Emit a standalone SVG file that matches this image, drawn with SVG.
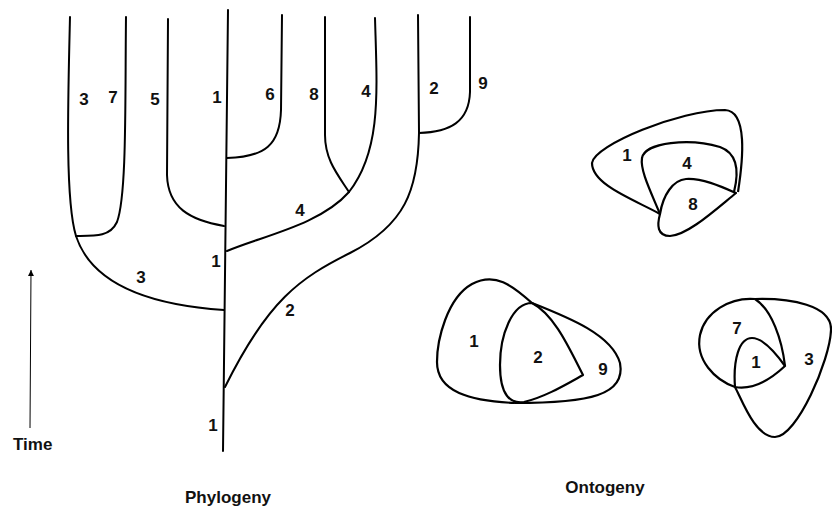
<svg xmlns="http://www.w3.org/2000/svg" width="832" height="510" viewBox="0 0 832 510">
<style>
.ln{fill:none;stroke:#000;stroke-width:2;stroke-linecap:round;stroke-linejoin:round}
.sh{fill:none;stroke:#000;stroke-width:2.2;stroke-linejoin:round}
.t{font-family:"Liberation Sans",Arial,sans-serif;font-weight:bold;font-size:17px;fill:#111;text-anchor:middle}
</style>
<defs>
<marker id="ah" markerWidth="8" markerHeight="8" refX="6" refY="3" orient="auto" markerUnits="userSpaceOnUse">
<path d="M0,0 L6,3 L0,6 Z" fill="#000"/>
</marker>
</defs>
<rect width="832" height="510" fill="#fff"/>
<g id="connectors">
<path id="trunk" class="ln" d="M228,10 L223,451"/>
<path id="br3" class="ln" d="M70,17 C68,100 65,200 76,236 C92,285 150,305 224,310"/>
<path id="br7" class="ln" d="M126,17 C125,100 127,195 117,222 C110,237 95,236 76,236"/>
<path id="br5" class="ln" d="M168,19 L167,175 C168,208 190,220 224,226"/>
<path id="br6" class="ln" d="M282,15 L281,110 C280,145 265,157 227,158"/>
<path id="br8" class="ln" d="M325,17 L325,135 C325,160 338,175 349,192"/>
<path id="br4" class="ln" d="M375,18 C377,90 382,150 349,192 C320,225 262,236 227,251"/>
<path id="br2" class="ln" d="M418,15 L419,133 C418,190 405,225 350,253 C300,278 268,300 225,387"/>
<path id="br9" class="ln" d="M470,17 L470,92 C469,122 450,132 419,133"/>
<line id="time-arrow" x1="30" y1="428" x2="31" y2="270" stroke="#000" stroke-width="1" marker-end="url(#ah)"/>
</g>
<g id="phylo-labels">
<text class="t" x="84" y="105">3</text>
<text class="t" x="113" y="103">7</text>
<text class="t" x="155" y="105">5</text>
<text class="t" x="217" y="103">1</text>
<text class="t" x="270" y="100">6</text>
<text class="t" x="314" y="100">8</text>
<text class="t" x="366" y="97">4</text>
<text class="t" x="434" y="94">2</text>
<text class="t" x="483" y="89">9</text>
<text class="t" x="300" y="216">4</text>
<text class="t" x="216" y="267">1</text>
<text class="t" x="141" y="283">3</text>
<text class="t" x="290" y="316">2</text>
<text class="t" x="213" y="431">1</text>
<text class="t" x="13" y="450" style="text-anchor:start">Time</text>
<text class="t" x="228" y="503">Phylogeny</text>
<text class="t" x="605" y="493">Ontogeny</text>
</g>
<g id="onto-top">
<path class="sh" d="M660,214 C635,200 592,185 592,163 C594,145 680,110 725,110 C748,111 743,160 738,192"/>
<path class="sh" d="M660,214 C650,190 640,170 642,158 C645,142 690,138 720,147 C742,155 737,180 734,192"/>
<path class="sh" d="M660,214 C663,195 673,180 686,179 C702,178 720,186 736,193 C715,210 688,235 670,236 C657,236 657,225 660,214 Z"/>
<text class="t" x="627" y="161">1</text>
<text class="t" x="687" y="169">4</text>
<text class="t" x="693" y="210">8</text>
</g>
<g id="onto-mid">
<path class="sh" d="M532,303 C512,285 495,272 472,284 C447,298 437,340 437,362 C437,392 470,401 515,403"/>
<path class="sh" d="M532,303 C570,318 612,335 620,363 C626,395 590,403 515,403"/>
<path class="sh" d="M532,303 C512,303 500,335 500,365 C500,395 510,404 524,402 C545,397 565,385 583,375 C570,350 555,315 532,303 Z"/>
<text class="t" x="474" y="347">1</text>
<text class="t" x="538" y="363">2</text>
<text class="t" x="603" y="375">9</text>
</g>
<g id="onto-right">
<path class="sh" d="M755,299 C730,297 705,312 700,335 C695,360 715,380 735,387"/>
<path class="sh" d="M755,299 C772,310 782,340 785,366"/>
<path class="sh" d="M785,366 C775,352 763,338 752,338 C739,338 733,360 735,387 C752,390 770,380 785,366 Z"/>
<path class="sh" d="M755,299 C790,298 832,305 831,330 C830,360 797,437 775,437 C755,437 742,400 735,387"/>
<text class="t" x="737" y="334">7</text>
<text class="t" x="756" y="368">1</text>
<text class="t" x="809" y="365">3</text>
</g>
</svg>
